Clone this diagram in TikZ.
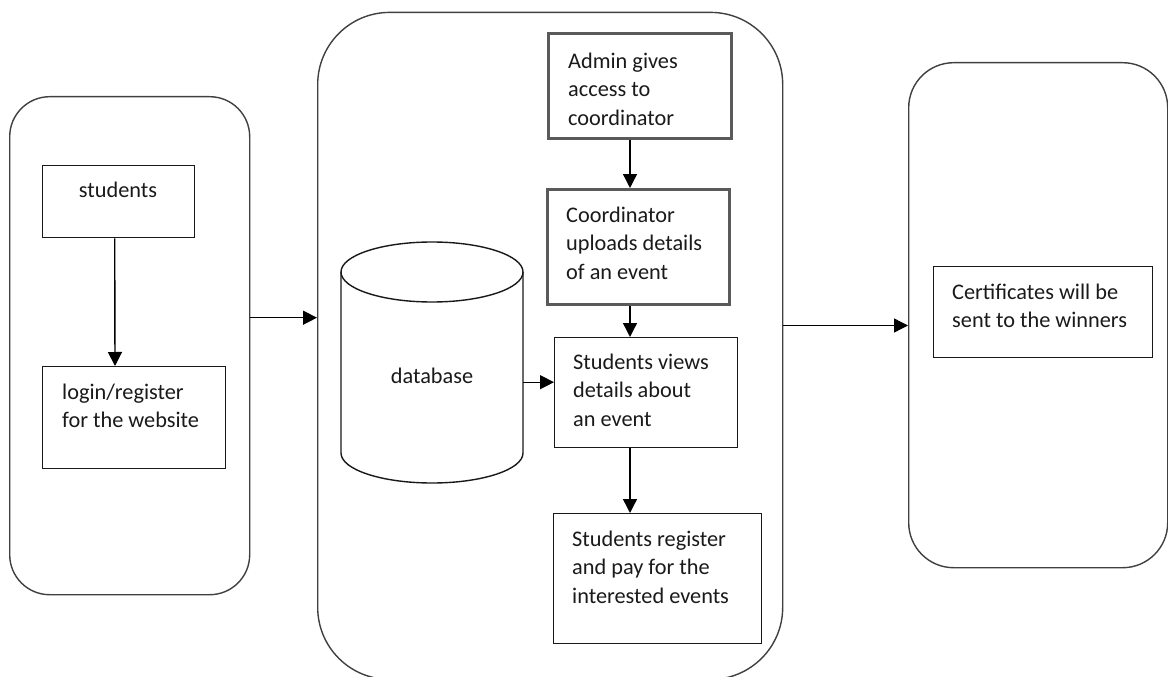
\documentclass[tikz,border=0pt]{standalone}
\usepackage{fontspec}
\setmainfont{Carlito}
\usetikzlibrary{arrows.meta,calc}
\definecolor{txt}{HTML}{1A1A1A}
\definecolor{cont}{HTML}{404040}
\definecolor{thickgray}{HTML}{5A5A5A}
\begin{document}
\begin{tikzpicture}[x=1pt,y=-1pt,
  container/.style={draw=cont, line width=1.4pt, inner sep=0pt, anchor=north west},
  thinbox/.style={draw=black!90, line width=1.4pt, inner sep=0pt, anchor=north west},
  thickbox/.style={draw=thickgray, line width=2.8pt, inner sep=0pt, anchor=north west},
  lbl/.style={font=\fontsize{22.3}{28.7}\selectfont, text=txt, align=left, inner sep=0pt, anchor=north west},
  slbl/.style={font=\fontsize{22.3}{28.7}\selectfont, text=txt, inner sep=0pt, anchor=base},
  arr/.style={-{Triangle[length=14pt,width=14pt]}, line width=1.4pt, draw=black}]
\useasboundingbox (0,0) rectangle (1168,677);
\fill[white] (0,0) rectangle (1168,677);

% containers
\node[container, rounded corners=40pt, minimum width=240pt, minimum height=498pt] (leftC) at (9,96) {};
\node[container, rounded corners=72pt, minimum width=465pt, minimum height=667pt] (midC) at (317,11.7) {};
\node[container, rounded corners=45pt, minimum width=259pt, minimum height=505pt] (rightC) at (908,62) {};

% left boxes
\node[thinbox, minimum width=152pt, minimum height=72pt] (students) at (42,165) {};
\node[slbl] (studentsT) at (118,197) {students};
\node[thinbox, minimum width=183pt, minimum height=102pt] (login) at (42,366) {};
\node[lbl] (loginT) at (62,383.5) {login/register\\for the website};

% middle boxes
\node[thickbox, minimum width=183pt, minimum height=105pt] (admin) at (547,32) {};
\node[lbl] (adminT) at (568,52.5) {Admin gives\\access to\\coordinator};
\node[thickbox, minimum width=182pt, minimum height=115pt] (coord) at (546,188) {};
\node[lbl] (coordT) at (566,206.5) {Coordinator\\uploads details\\of an event};
\node[thinbox, minimum width=183pt, minimum height=110pt] (views) at (554,337) {};
\node[lbl] (viewsT) at (573,353.5) {Students views\\details about\\an event};
\node[thinbox, minimum width=208pt, minimum height=130pt] (register) at (553,513) {};
\node[lbl] (registerT) at (572,530.5) {Students register\\and pay for the\\interested events};

% database cylinder
\node[inner sep=0pt, minimum width=182pt, minimum height=241pt, anchor=north west] (db) at (341,242) {};
\draw[draw=black!90, line width=1.4pt] (341,272) -- (341,453)
  arc[start angle=180, end angle=360, x radius=91pt, y radius=30pt] -- (523,272);
\draw[draw=black!90, line width=1.4pt] (432,272) ellipse [x radius=91pt, y radius=30pt];
\node[slbl] (dbT) at (432,383) {database};

% right box
\node[thinbox, minimum width=219pt, minimum height=91pt] (cert) at (933,266) {};
\node[lbl] (certT) at (952,283.5) {Certificates will be\\sent to the winners};

% connectors
\draw[arr] ($(students.south)+(-4,0)$) -- ($(login.north west)+(73,0)$);
\coordinate (a1) at ($(leftC.east)+(0,-28)$);
\draw[arr] (a1) -- (a1 -| midC.west);
\coordinate (ax) at (630,0);
\draw[arr] (admin.south -| ax) -- (coord.north -| ax);
\draw[arr] (coord.south -| ax) -- (views.north -| ax);
\draw[arr] (views.south -| ax) -- (register.north -| ax);
\coordinate (a3) at ($(db.east)+(0,19.5)$);
\draw[arr] (a3) -- (a3 -| views.west);
\coordinate (a4) at ($(midC.east)+(0,-20.4)$);
\draw[arr] (a4) -- (a4 -| rightC.west);
\end{tikzpicture}
\end{document}
